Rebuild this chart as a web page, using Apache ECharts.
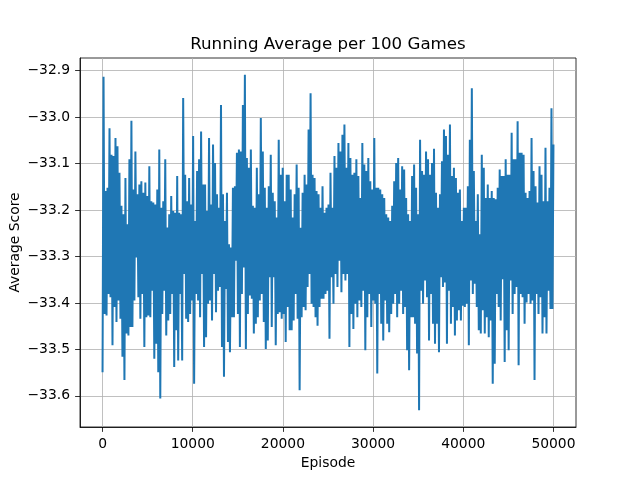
<!DOCTYPE html>
<html>
<head>
<meta charset="utf-8">
<script src="https://cdn.jsdelivr.net/npm/echarts@6/dist/echarts.min.js"></script>
<style>html,body{margin:0;padding:0;background:#fff}#c{width:640px;height:480px}</style>
</head>
<body>
<div id="c"></div>
<script>
const chartTitle = 'Running Average per 100 Games';
const xName = 'Episode';
const yName = 'Average Score';
const xTicks = [0, 10000, 20000, 30000, 40000, 50000];
const yTicks = [-33.6, -33.5, -33.4, -33.3, -33.2, -33.1, -33.0, -32.9];
const lastEpisode = 50000;
// running average, read column by column (low, high) from the reference picture
const scores = [
-33.549,-32.913,-33.424,-33.159,-33.427,-33.152,-33.381,-33.024,-33.388,-33.081,
-33.491,-33.084,-33.409,-33.045,-33.441,-33.063,-33.395,-33.120,-33.434,-33.191,
-33.516,-33.209,-33.566,-33.131,-33.466,-33.231,-33.470,-33.091,-33.452,-33.008,
-33.452,-33.156,-33.395,-33.074,-33.302,-33.166,-33.388,-33.145,-33.434,-33.138,
-33.381,-33.163,-33.495,-33.141,-33.431,-33.170,-33.427,-33.106,-33.431,-33.181,
-33.374,-33.184,-33.520,-33.188,-33.488,-33.156,-33.549,-33.070,-33.606,-33.195,
-33.424,-33.181,-33.374,-33.091,-33.470,-33.238,-33.438,-33.209,-33.424,-33.170,
-33.381,-33.202,-33.538,-33.206,-33.459,-33.127,-33.524,-33.206,-33.381,-33.209,
-33.524,-32.959,-33.338,-33.124,-33.434,-33.181,-33.441,-33.131,-33.424,-33.188,
-33.395,-33.041,-33.574,-33.224,-33.381,-33.116,-33.395,-33.091,-33.431,-33.031,
-33.338,-33.145,-33.495,-33.145,-33.474,-33.202,-33.402,-33.045,-33.395,-33.188,
-33.438,-33.059,-33.338,-33.099,-33.420,-33.166,-33.374,-33.195,-33.366,-32.974,
-33.495,-33.166,-33.559,-33.224,-33.370,-33.163,-33.484,-33.274,-33.506,-33.281,
-33.431,-33.152,-33.431,-33.149,-33.309,-33.077,-33.424,-33.070,-33.495,-33.074,
-33.381,-32.974,-33.324,-32.909,-33.499,-33.088,-33.424,-33.109,-33.384,-33.070,
-33.391,-33.191,-33.466,-33.195,-33.445,-33.109,-33.431,-33.166,-33.395,-33.002,
-33.381,-33.074,-33.441,-33.152,-33.499,-33.195,-33.481,-33.149,-33.345,-33.081,
-33.452,-33.163,-33.345,-33.181,-33.491,-33.216,-33.424,-33.049,-33.420,-33.124,
-33.434,-33.109,-33.424,-33.181,-33.484,-33.124,-33.409,-33.124,-33.459,-33.156,
-33.459,-33.216,-33.438,-33.166,-33.381,-33.102,-33.434,-33.152,-33.588,-33.238,
-33.431,-33.163,-33.409,-33.124,-33.416,-33.145,-33.366,-33.027,-33.338,-32.949,
-33.402,-33.124,-33.409,-33.131,-33.431,-33.159,-33.449,-33.166,-33.409,-33.195,
-33.391,-33.149,-33.391,-33.206,-33.381,-33.195,-33.374,-33.188,-33.477,-33.120,
-33.345,-33.195,-33.402,-33.084,-33.338,-33.109,-33.366,-33.056,-33.309,-33.074,
-33.377,-33.038,-33.338,-33.016,-33.352,-33.109,-33.338,-33.056,-33.495,-33.088,
-33.424,-33.124,-33.456,-33.120,-33.402,-33.091,-33.431,-33.127,-33.395,-33.174,
-33.409,-33.056,-33.374,-33.102,-33.502,-33.116,-33.431,-33.088,-33.381,-33.138,
-33.452,-33.156,-33.395,-33.045,-33.402,-33.152,-33.552,-33.152,-33.381,-33.156,
-33.445,-33.166,-33.481,-33.174,-33.395,-33.209,-33.445,-33.216,-33.463,-33.224,
-33.424,-33.191,-33.402,-33.138,-33.381,-33.099,-33.431,-33.088,-33.402,-33.156,
-33.374,-33.106,-33.424,-33.113,-33.409,-33.174,-33.502,-33.209,-33.545,-33.224,
-33.431,-33.127,-33.431,-33.102,-33.445,-33.152,-33.509,-33.209,-33.631,-33.049,
-33.374,-33.116,-33.402,-33.124,-33.352,-33.074,-33.388,-33.091,-33.481,-33.124,
-33.381,-33.099,-33.445,-33.068,-33.488,-33.163,-33.445,-33.195,-33.506,-33.166,
-33.345,-33.095,-33.366,-33.027,-33.356,-33.041,-33.488,-33.081,-33.374,-33.016,
-33.445,-33.127,-33.409,-33.109,-33.470,-33.131,-33.438,-33.163,-33.416,-33.156,
-33.438,-33.224,-33.406,-33.195,-33.409,-33.195,-33.402,-33.149,-33.491,-33.049,
-33.352,-32.938,-33.381,-33.116,-33.359,-33.224,-33.409,-33.166,-33.459,-33.252,
-33.466,-33.081,-33.416,-33.109,-33.466,-33.174,-33.431,-33.145,-33.474,-33.174,
-33.438,-33.159,-33.574,-33.174,-33.531,-33.177,-33.381,-33.152,-33.409,-33.113,
-33.438,-33.127,-33.349,-33.127,-33.527,-33.091,-33.459,-33.124,-33.502,-33.124,
-33.352,-33.034,-33.424,-33.091,-33.381,-33.091,-33.366,-33.009,-33.534,-33.077,
-33.381,-33.077,-33.388,-33.081,-33.445,-33.163,-33.399,-33.174,-33.381,-33.159,
-33.402,-33.045,-33.395,-33.116,-33.566,-33.149,-33.381,-33.184,-33.424,-33.106,
-33.388,-33.124,-33.466,-33.181,-33.431,-33.066,-33.466,-33.181,-33.374,-33.152,
-33.413,-32.981,-33.413,-33.059
];

const step = lastEpisode / (scores.length - 1);
const seriesData = scores.map((v, i) => [i * step, v]);
const yMinD = Math.min(...scores), yMaxD = Math.max(...scores);
const yPad = (yMaxD - yMinD) * 0.05;
const xPad = lastEpisode * 0.05;

const FONT = 'DejaVu Sans';
const chart = echarts.init(document.getElementById('c'), null, {renderer: 'canvas'});
chart.setOption({
  animation: false,
  backgroundColor: '#ffffff',
  title: {
    text: chartTitle, left: 328, top: 36, textAlign: 'center', padding: 0,
    textStyle: {fontFamily: FONT, fontSize: 16.67, fontWeight: 'normal', color: '#000'}
  },
  grid: {
    left: 80, right: 64, top: 58, bottom: 53,
    containLabel: false, outerBoundsMode: 'none',
    show: true, borderColor: '#000', borderWidth: 0.8, backgroundColor: 'transparent'
  },
  xAxis: {
    type: 'value', min: -xPad, max: lastEpisode + xPad,
    name: xName, nameLocation: 'middle', nameGap: 29, nameMoveOverlap: false,
    nameTextStyle: {fontFamily: FONT, fontSize: 13.89, color: '#000'},
    axisLine: {show: true, onZero: false, lineStyle: {color: '#000', width: 0.8}},
    axisTick: {show: true, inside: false, length: 4.9, customValues: xTicks, lineStyle: {color: '#000', width: 0.8}},
    axisLabel: {margin: 10, customValues: xTicks, fontFamily: FONT, fontSize: 13.89, color: '#000',
      formatter: v => String(v)},
    splitLine: {show: true, lineStyle: {color: '#b0b0b0', width: 0.8}}
  },
  yAxis: {
    type: 'value', min: yMinD - yPad, max: yMaxD + yPad,
    name: yName, nameLocation: 'middle', nameGap: 58, nameRotate: 90, nameMoveOverlap: false,
    nameTextStyle: {fontFamily: FONT, fontSize: 13.89, color: '#000'},
    axisLine: {show: true, onZero: false, lineStyle: {color: '#000', width: 0.8}},
    axisTick: {show: true, inside: false, length: 4.9, customValues: yTicks, lineStyle: {color: '#000', width: 0.8}},
    axisLabel: {margin: 10, customValues: yTicks, fontFamily: FONT, fontSize: 13.89, color: '#000',
      formatter: v => (v < 0 ? '\u2212' : '') + Math.abs(v).toFixed(1)},
    splitLine: {show: true, lineStyle: {color: '#b0b0b0', width: 0.8}}
  },
  series: [{
    type: 'line', data: seriesData, showSymbol: false, symbol: 'none',
    lineStyle: {color: '#1f77b4', width: 2}, itemStyle: {color: '#1f77b4'},
    clip: true, silent: true
  }]
});
</script>
</body>
</html>
